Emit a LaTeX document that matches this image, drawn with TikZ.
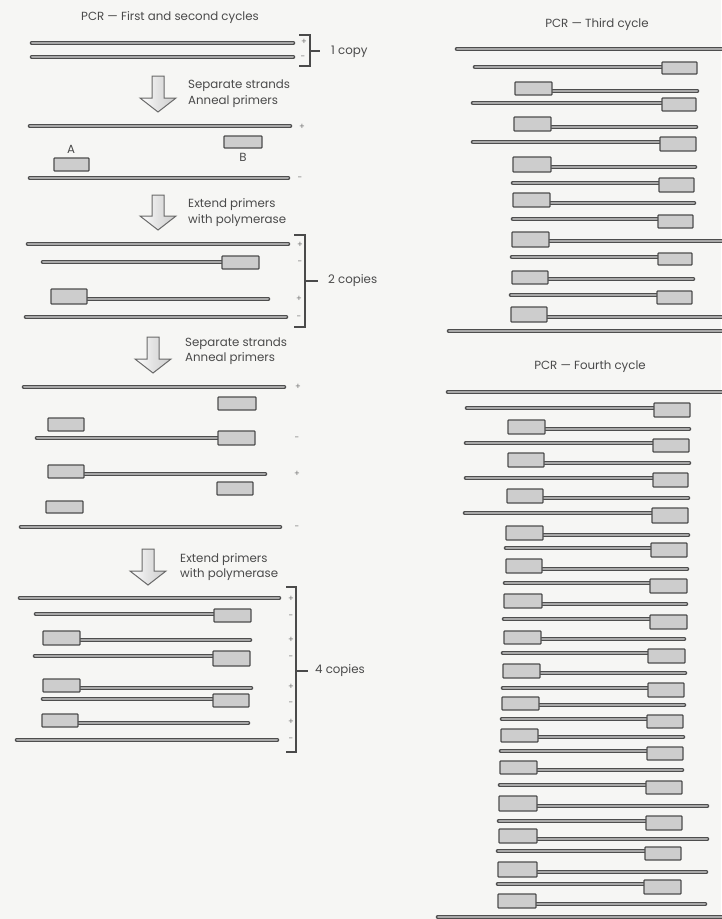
\documentclass[tikz,border=0pt]{standalone}
\usepackage{fontspec}
\setmainfont{Poppins}
\definecolor{paper}{HTML}{F6F6F4}
\definecolor{ink}{HTML}{4A4A4A}
\definecolor{edge}{HTML}{4E4E4E}
\definecolor{core}{HTML}{A8A8A8}
\definecolor{boxfill}{HTML}{CDCDCD}
\definecolor{arrfill}{HTML}{E2E2E2}
\tikzset{
  dna/.style={draw=edge, line width=4.6pt, line cap=round},
  dnain/.style={draw=core, line width=2pt, line cap=round},
  primer/.style={draw=edge, fill=boxfill, line width=1.3pt, rounded corners=0.8pt},
  lbl/.style={text=ink, font=\fontsize{11.8}{13}\selectfont, inner sep=0pt, anchor=west},
  ttl/.style={text=ink, font=\fontsize{11.8}{13}\selectfont, inner sep=0pt},
  sgn/.style={text=ink!75, font=\fontsize{8.5}{9}\selectfont, inner sep=0pt},
  brk/.style={draw=ink, line width=1.3pt},
  bigarrow/.style={draw=edge!85, line width=1pt, left color=white, right color=arrfill!80!gray, middle color=arrfill},
}
\newcommand{\dnaS}[3]{\draw[dna] (#1,#3) -- (#2,#3); \draw[dnain] (#1,#3) -- (#2,#3);}
\newcommand{\dnaP}[4]{\draw[primer] (#1,#3) rectangle (#2,#4);}
\newcommand{\bigarr}[3]{\draw[bigarrow] (#1-6,#2) -- (#1+6,#2) -- (#1+6,#3-14) -- (#1+18,#3-14) -- (#1,#3) -- (#1-18,#3-14) -- (#1-6,#3-14) -- cycle;}
\begin{document}
\begin{tikzpicture}[x=1pt,y=-1pt]
\useasboundingbox (0,0) rectangle (721,919);
\fill[paper] (0,0) rectangle (721,919);

% ===== Left: first and second cycles =====
\node[ttl] (t1) at (170,18) {PCR — First and second cycles};

% 1 copy
\dnaS{32}{293}{43}
\dnaS{32}{293}{57}
\node[sgn] (s1) at (304,42) {+};
\node[sgn] (s2) at (303,58) {-};
\draw[brk] (299,35) -- (310,35) -- (310,66) -- (299,66);
\draw[brk] (310,51) -- (320,51);
\node[lbl] (c1) at (331,52) {1 copy};

% arrow 1
\bigarr{158}{76}{112}
\node[lbl] (a1a) at (188,86) {Separate strands};
\node[lbl] (a1b) at (188,102) {Anneal primers};

% separated strands with primers
\dnaS{30}{290}{126}
\node[sgn] (s3) at (302,127) {+};
\dnaP{224}{262}{136}{148}
\node[lbl, anchor=center] (B) at (243,157) {B};
\node[lbl, anchor=center] (A) at (71,149) {A};
\dnaP{54}{89}{158}{171}
\dnaS{30}{288}{178}
\node[sgn] (s4) at (300,179) {-};

% arrow 2
\bigarr{158}{195}{230}
\node[lbl] (a2a) at (188,205) {Extend primers};
\node[lbl] (a2b) at (188,221) {with polymerase};

% 2 copies
\dnaS{28}{288}{244}
\node[sgn] (s5) at (300,245) {+};
\dnaS{43}{222}{262}
\dnaP{222}{259}{256}{269}
\node[sgn] (s6) at (300,263) {-};
\dnaS{87}{268}{299}
\dnaP{51}{87}{289}{304}
\node[sgn] (s7) at (299,299) {+};
\dnaS{26}{286}{317}
\node[sgn] (s8) at (299,318) {-};
\draw[brk] (294,235) -- (305,235) -- (305,327) -- (294,327);
\draw[brk] (305,281) -- (318,281);
\node[lbl] (c2) at (328,281) {2 copies};

% arrow 3
\bigarr{153}{337}{373}
\node[lbl] (a3a) at (185,344) {Separate strands};
\node[lbl] (a3b) at (185,359) {Anneal primers};

% separated, with primers
\dnaS{24}{284}{387}
\node[sgn] (s9) at (298,387) {+};
\dnaP{218}{256}{397}{410}
\dnaP{48}{84}{418}{431}
\dnaS{37}{218}{438}
\dnaP{218}{255}{431}{445}
\node[sgn] (s10) at (297,439) {-};
\dnaS{84}{265}{474}
\dnaP{48}{84}{465}{478}
\node[sgn] (s11) at (297,474) {+};
\dnaP{217}{253}{482}{495}
\dnaP{46}{83}{501}{513}
\dnaS{21}{280}{527}
\node[sgn] (s12) at (297,528) {-};

% arrow 4
\bigarr{148}{549}{585}
\node[lbl] (a4a) at (180,560) {Extend primers};
\node[lbl] (a4b) at (180,575) {with polymerase};

% 4 copies
\dnaS{20}{279}{598}
\dnaS{36}{214}{614}
\dnaP{214}{251}{609}{622}
\dnaS{80}{250}{640}
\dnaP{43}{80}{631}{645}
\dnaS{35}{213}{656}
\dnaP{213}{250}{651}{666}
\dnaS{80}{251}{688}
\dnaP{43}{80}{679}{692}
\dnaS{43}{213}{699}
\dnaP{213}{249}{694}{707}
\dnaS{78}{248}{723}
\dnaP{42}{78}{714}{727}
\dnaS{17}{277}{740}
\node[sgn] (p1) at (291,599) {+};
\node[sgn] (m1) at (291,617) {-};
\node[sgn] (p2) at (291,640) {+};
\node[sgn] (m2) at (291,658) {-};
\node[sgn] (p3) at (291,687) {+};
\node[sgn] (m3) at (291,704) {-};
\node[sgn] (p4) at (291,722) {+};
\node[sgn] (m4) at (291,740) {-};
\draw[brk] (286,587) -- (296,587) -- (296,752) -- (286,752);
\draw[brk] (296,671) -- (308,671);
\node[lbl] (c4) at (315,671) {4 copies};

% ===== Right: third cycle =====
\node[ttl] (t3) at (597,25) {PCR — Third cycle};
\dnaS{457}{730}{49}
\dnaS{475}{662}{67}    \dnaP{662}{697}{62}{74}
\dnaS{552}{697}{91}    \dnaP{515}{552}{82}{95}
\dnaS{473}{662}{103}   \dnaP{662}{696}{98}{111}
\dnaS{551}{696}{127}   \dnaP{514}{551}{117}{131}
\dnaS{473}{660}{142}   \dnaP{660}{696}{137}{151}
\dnaS{551}{695}{167}   \dnaP{513}{551}{157}{172}
\dnaS{513}{659}{183}   \dnaP{659}{694}{178}{192}
\dnaS{550}{694}{203}   \dnaP{513}{550}{193}{207}
\dnaS{513}{658}{219}   \dnaP{658}{693}{215}{228}
\dnaS{549}{730}{241}   \dnaP{512}{549}{232}{247}
\dnaS{512}{658}{257}   \dnaP{658}{692}{253}{265}
\dnaS{548}{693}{279}   \dnaP{512}{548}{271}{284}
\dnaS{511}{657}{295}   \dnaP{657}{692}{291}{304}
\dnaS{547}{730}{317}   \dnaP{511}{547}{307}{322}
\dnaS{449}{730}{331}

% ===== Right: fourth cycle =====
\node[ttl] (t4) at (590,367) {PCR — Fourth cycle};
\dnaS{448}{730}{392}
\dnaS{467}{654}{408}   \dnaP{654}{690}{403}{417}
\dnaS{545}{689}{429}   \dnaP{508}{545}{420}{434}
\dnaS{466}{653}{443}   \dnaP{653}{689}{439}{452}
\dnaS{544}{689}{463}   \dnaP{508}{544}{453}{467}
\dnaS{466}{653}{478}   \dnaP{653}{688}{473}{487}
\dnaS{543}{688}{498}   \dnaP{507}{543}{489}{503}
\dnaS{465}{652}{513}   \dnaP{652}{688}{508}{523}
\dnaS{543}{688}{535}   \dnaP{506}{543}{526}{540}
\dnaS{506}{651}{548}   \dnaP{651}{687}{543}{557}
\dnaS{542}{687}{569}   \dnaP{506}{542}{559}{573}
\dnaS{505}{650}{583}   \dnaP{650}{687}{579}{593}
\dnaS{542}{686}{604}   \dnaP{504}{542}{594}{608}
\dnaS{504}{650}{619}   \dnaP{650}{687}{615}{629}
\dnaS{541}{684}{639}   \dnaP{504}{541}{631}{644}
\dnaS{503}{648}{653}   \dnaP{648}{685}{649}{663}
\dnaS{540}{685}{673}   \dnaP{503}{540}{664}{678}
\dnaS{503}{648}{688}   \dnaP{648}{684}{683}{697}
\dnaS{539}{684}{705}   \dnaP{502}{539}{697}{710}
\dnaS{502}{647}{719}   \dnaP{647}{683}{715}{728}
\dnaS{538}{683}{737}   \dnaP{501}{538}{729}{742}
\dnaS{501}{647}{751}   \dnaP{647}{683}{747}{760}
\dnaS{537}{682}{770}   \dnaP{500}{537}{761}{774}
\dnaS{500}{646}{785}   \dnaP{646}{682}{781}{794}
\dnaS{537}{707}{806}   \dnaP{499}{537}{796}{811}
\dnaS{499}{646}{821}   \dnaP{646}{682}{816}{830}
\dnaS{537}{707}{839}   \dnaP{499}{537}{829}{843}
\dnaS{498}{645}{851}   \dnaP{645}{681}{847}{860}
\dnaS{537}{706}{872}   \dnaP{498}{537}{862}{877}
\dnaS{498}{644}{884}   \dnaP{644}{681}{880}{894}
\dnaS{536}{705}{904}   \dnaP{498}{536}{894}{908}
\dnaS{438}{730}{917}
\end{tikzpicture}
\end{document}
